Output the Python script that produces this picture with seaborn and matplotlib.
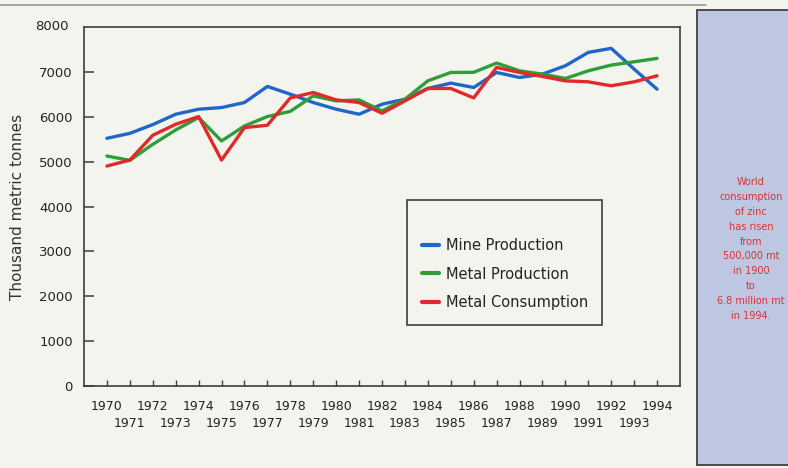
import matplotlib
matplotlib.use("Agg")
import matplotlib.pyplot as plt
import pandas as pd
import seaborn as sns
from matplotlib.patches import Rectangle
from matplotlib.lines import Line2D

# World zinc production and consumption, thousand metric tonnes
years = list(range(1970, 1995))
mine_production = [5520, 5630, 5825, 6056, 6168, 6205, 6317, 6675, 6503, 6317,
                   6168, 6056, 6279, 6391, 6630, 6749, 6652, 6987, 6875, 6950,
                   7136, 7434, 7524, 7061, 6615]
metal_production = [5125, 5028, 5385, 5705, 5982, 5460, 5795, 6004, 6120, 6466,
                    6353, 6376, 6130, 6391, 6800, 6987, 6990, 7196, 7024, 6950,
                    6853, 7024, 7151, 7225, 7300]
metal_consumption = [4901, 5035, 5587, 5832, 6004, 5035, 5758, 5810, 6420, 6540,
                     6376, 6317, 6078, 6353, 6630, 6630, 6420, 7099, 6987, 6898,
                     6800, 6778, 6690, 6778, 6912]

series_names = ["Mine Production", "Metal Production", "Metal Consumption"]
series_colors = ["#1f66c8", "#2f9e3a", "#e02a2a"]
y_ticks = [0, 1000, 2000, 3000, 4000, 5000, 6000, 7000, 8000]

note_lines = ["World", "consumption", "of zinc", "has risen", "from",
              "500,000 mt", "in 1900", "to", "6.8 million mt", "in 1994."]

frames = []
for name, vals in zip(series_names, [mine_production, metal_production, metal_consumption]):
    frames.append(pd.DataFrame({"Year": years, "Value": vals, "Series": name}))
df = pd.concat(frames, ignore_index=True)

sns.set_theme(style="white")
plt.rcParams["font.family"] = ["DejaVu Sans"]

W, H, DPI = 788, 468, 100
bg = "#f4f4ef"
frame_col = "#3c3c3c"
text_col = "#222222"
fig = plt.figure(figsize=(W / DPI, H / DPI), dpi=DPI, facecolor=bg)

def fx(px):
    return px / W

def fy(py):
    return 1 - py / H

ax = fig.add_axes([fx(84), fy(386), fx(680) - fx(84), fy(27) - fy(386)])
ax.set_facecolor(bg)

sns.lineplot(data=df, x="Year", y="Value", hue="Series", hue_order=series_names,
             palette=series_colors, linewidth=2.4, ax=ax, legend=False)

ax.set_xlim(1969, 1995)
ax.set_ylim(0, 8000)
ax.set_yticks(y_ticks[:-1])
ax.set_yticklabels([str(v) for v in y_ticks[:-1]])

# even years on the upper label row, odd years staggered below
even_years = [y for y in years if y % 2 == 0]
odd_years = [y for y in years if y % 2 == 1]
ax.set_xticks(even_years)
ax.set_xticklabels([str(y) for y in even_years])
ax.set_xticks(odd_years, minor=True)
ax.set_xticklabels([str(y) for y in odd_years], minor=True)

# the 8000 label sits at the top corner of the frame
ax.text(-0.026, 1.0, "8000", transform=ax.transAxes, ha="right", va="center",
        fontsize=9.5, color=text_col)

ax.tick_params(axis="y", which="major", direction="in", length=7, width=1.1,
               color=frame_col, labelsize=9.5, pad=8, labelcolor=text_col, left=True)
ax.tick_params(axis="x", which="major", direction="in", length=4, width=1.0,
               color=frame_col, labelsize=9, pad=10, labelcolor=text_col, bottom=True)
ax.tick_params(axis="x", which="minor", direction="in", length=4, width=1.0,
               color=frame_col, labelsize=9, pad=22.5, labelcolor=text_col, bottom=True)
for sp in ax.spines.values():
    sp.set_visible(True)
    sp.set_color(frame_col)
    sp.set_linewidth(1.2)

ax.set_xlabel("")
ax.set_ylabel("Thousand metric tonnes", fontsize=11, color="#333333", labelpad=10)

handles = [Line2D([], [], color=c, linewidth=3) for c in series_colors]
leg = ax.legend(handles, series_names, loc="lower left",
                bbox_to_anchor=((407 - 84) / 596, (386 - 325) / 359),
                borderaxespad=0, fontsize=10.5, title=" ", title_fontsize=6,
                frameon=True, fancybox=False, borderpad=1.0, labelspacing=0.95,
                handlelength=1.2, handletextpad=0.45)
leg.get_frame().set_edgecolor(frame_col)
leg.get_frame().set_linewidth(1.2)
leg.get_frame().set_facecolor(bg)
leg.get_frame().set_alpha(1)
for t in leg.get_texts():
    t.set_color(text_col)

# thin rule across the top
fig.add_artist(Line2D([0, fx(706)], [fy(4.5), fy(4.5)], color="#9a9a9a",
                      linewidth=1.2, transform=fig.transFigure))

# side note panel
fig.add_artist(Rectangle((fx(697), fy(465)), fx(100), fy(10) - fy(465),
                         transform=fig.transFigure, facecolor="#bec7e2",
                         edgecolor="#404040", linewidth=1.3))
fig.text(fx(751), fy(249), "\n".join(note_lines), ha="center", va="center",
         fontsize=7, color="#d93333", linespacing=1.6)

fig.savefig("out.png", dpi=DPI, facecolor=bg)
